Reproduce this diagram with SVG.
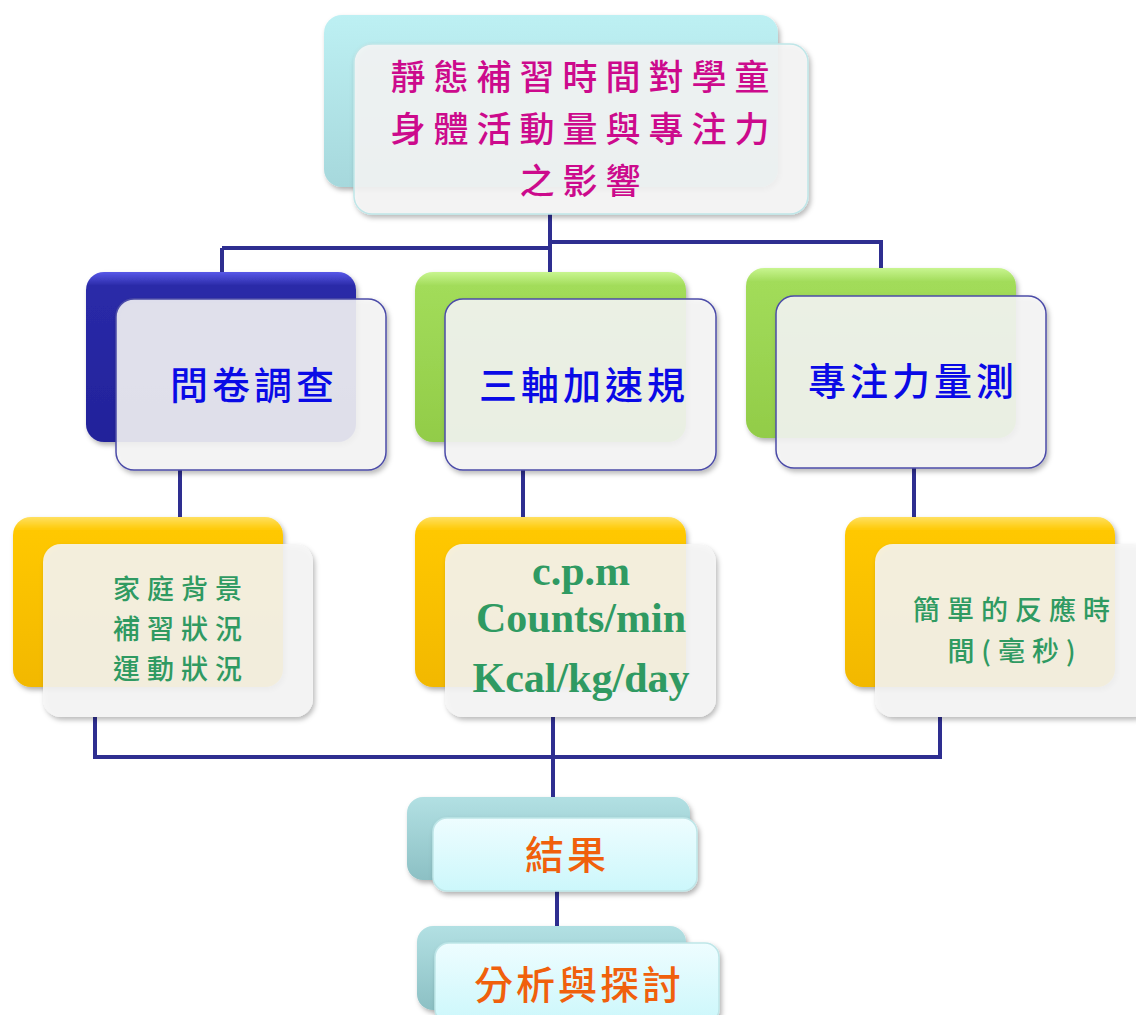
<svg xmlns="http://www.w3.org/2000/svg" width="1136" height="1015" viewBox="0 0 1136 1015">
<defs>
<linearGradient id="gCyan" x1="0" y1="0" x2="0" y2="1"><stop offset="0" stop-color="#bdf0f3"/><stop offset="1" stop-color="#a6d8dc"/></linearGradient>
<linearGradient id="gBlue" x1="0" y1="0" x2="0" y2="1"><stop offset="0" stop-color="#5858e8"/><stop offset="0.08" stop-color="#2a2aa8"/><stop offset="1" stop-color="#22229a"/></linearGradient>
<linearGradient id="gGreen" x1="0" y1="0" x2="0" y2="1"><stop offset="0" stop-color="#c8f590"/><stop offset="0.08" stop-color="#a2dc5a"/><stop offset="1" stop-color="#92cc48"/></linearGradient>
<linearGradient id="gGold" x1="0" y1="0" x2="0" y2="1"><stop offset="0" stop-color="#ffe060"/><stop offset="0.08" stop-color="#ffc800"/><stop offset="1" stop-color="#f2b800"/></linearGradient>
<linearGradient id="gTeal" x1="0" y1="0" x2="0" y2="1"><stop offset="0" stop-color="#b2e0e3"/><stop offset="1" stop-color="#8cc0c4"/></linearGradient>
<linearGradient id="gLight" x1="0" y1="0" x2="0" y2="1"><stop offset="0" stop-color="#eefdff"/><stop offset="1" stop-color="#ccf7fb"/></linearGradient>
<filter id="sh" x="-10%" y="-10%" width="130%" height="130%"><feDropShadow dx="2" dy="3" stdDeviation="2.5" flood-color="#000" flood-opacity="0.3"/></filter>
</defs>
<style>
.back{filter:url(#sh)}
.front{fill:#f6f6f6;fill-opacity:0.88;filter:url(#sh)}
.fc{stroke:#bfe6e8;stroke-width:1.5}
.fb{stroke:#4c4ca8;stroke-width:1.5}
.con{fill:none;stroke:#2e2e90;stroke-width:4}
.t1{font-family:"Noto Sans CJK TC","Noto Sans CJK SC",sans-serif;font-size:35px;fill:#cc0a8c;text-anchor:middle;letter-spacing:8px;font-weight:500}
.t2{font-family:"Noto Sans CJK TC","Noto Sans CJK SC",sans-serif;font-size:38px;fill:#0a0ae6;text-anchor:middle;letter-spacing:4px;font-weight:500}
.t3{font-family:"Noto Sans CJK TC","Noto Sans CJK SC",sans-serif;font-size:27px;fill:#2f9a62;text-anchor:middle;letter-spacing:7px;font-weight:500}
.t3e{font-family:"Liberation Serif","Times New Roman",serif;font-size:42px;font-weight:bold;fill:#2f9a62;text-anchor:middle}
.t4{font-family:"Noto Sans CJK TC","Noto Sans CJK SC",sans-serif;font-size:39px;fill:#f0600c;text-anchor:middle;letter-spacing:3px;font-weight:500}
</style>
<g id="connectors">
<path class="con" d="M550 214 V248 M222 248 H550 V272 M222 248 V272 M550 242 H881 V268"/>
<path class="con" d="M180 470 V517 M523 470 V517 M914 468 V517"/>
<path class="con" d="M95 717 V757 H940 V717 M553 717 V797"/>
<path class="con" d="M557 891 V928"/>
</g>
<g id="node-title">
<rect class="back" x="324" y="15" width="454" height="172" rx="18" fill="url(#gCyan)"/>
<rect class="front fc" x="354" y="44" width="454" height="170" rx="18"/>
<text class="t1" x="584" y="90">靜態補習時間對學童</text>
<text class="t1" x="584" y="142">身體活動量與專注力</text>
<text class="t1" x="584" y="194">之影響</text>
</g>
<g id="node-survey">
<rect class="back" x="86" y="272" width="270" height="170" rx="18" fill="url(#gBlue)"/>
<rect class="front fb" x="116" y="299" width="270" height="171" rx="18"/>
<text class="t2" x="254" y="399">問卷調查</text>
</g>
<g id="node-accel">
<rect class="back" x="415" y="272" width="271" height="170" rx="18" fill="url(#gGreen)"/>
<rect class="front fb" x="445" y="299" width="271" height="171" rx="18"/>
<text class="t2" x="584" y="399">三軸加速規</text>
</g>
<g id="node-attention">
<rect class="back" x="746" y="268" width="270" height="170" rx="18" fill="url(#gGreen)"/>
<rect class="front fb" x="776" y="296" width="270" height="172" rx="18"/>
<text class="t2" x="913" y="395">專注力量測</text>
</g>
<g id="node-background">
<rect class="back" x="13" y="517" width="270" height="170" rx="18" fill="url(#gGold)"/>
<rect class="front" x="43" y="544" width="270" height="173" rx="18"/>
<text class="t3" x="181" y="599">家庭背景</text>
<text class="t3" x="181" y="639">補習狀況</text>
<text class="t3" x="181" y="679">運動狀況</text>
</g>
<g id="node-cpm">
<rect class="back" x="415" y="517" width="271" height="170" rx="18" fill="url(#gGold)"/>
<rect class="front" x="445" y="544" width="271" height="173" rx="18"/>
<text class="t3e" x="581" y="585">c.p.m</text>
<text class="t3e" x="581" y="632">Counts/min</text>
<text class="t3e" x="581" y="692">Kcal/kg/day</text>
</g>
<g id="node-reaction">
<rect class="back" x="845" y="517" width="270" height="170" rx="18" fill="url(#gGold)"/>
<rect class="front" x="875" y="544" width="275" height="173" rx="18"/>
<text class="t3" x="1015" y="620">簡單的反應時</text>
<text class="t3" x="1015" y="661">間(毫秒)</text>
</g>
<g id="node-result">
<rect class="back" x="407" y="797" width="283" height="83" rx="16" fill="url(#gTeal)"/>
<rect class="front fc" x="433" y="818" width="264" height="73" rx="14" style="fill:url(#gLight);fill-opacity:1"/>
<text class="t4" x="567" y="869">結果</text>
</g>
<g id="node-discussion">
<rect class="back" x="417" y="926" width="269" height="84" rx="16" fill="url(#gTeal)"/>
<rect class="front fc" x="435" y="943" width="284" height="80" rx="14" style="fill:url(#gLight);fill-opacity:1"/>
<text class="t4" x="579" y="999">分析與探討</text>
</g>
</svg>
